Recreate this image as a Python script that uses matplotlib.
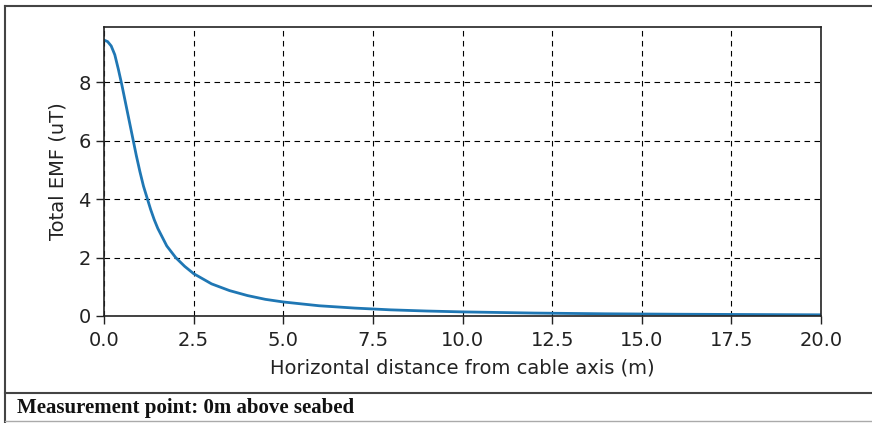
import matplotlib
matplotlib.use("Agg")
from matplotlib import pyplot as plt
from matplotlib.lines import Line2D

# 水平距离 (m) 与 总EMF (uT)
distance = [0.0, 0.1, 0.2, 0.3, 0.4, 0.5, 0.6, 0.7, 0.8, 0.9, 1.0, 1.1, 1.2, 1.3,
            1.4, 1.5, 1.75, 2.0, 2.25, 2.5, 3.0, 3.5, 4.0, 4.5, 5.0, 6.0, 7.0,
            8.0, 9.0, 10.0, 12.0, 14.0, 16.0, 18.0, 20.0]
emf = [9.45, 9.40, 9.25, 8.95, 8.45, 7.90, 7.30, 6.70, 6.10, 5.50, 4.95, 4.45,
       4.05, 3.65, 3.30, 3.00, 2.40, 2.00, 1.70, 1.45, 1.10, 0.87, 0.70, 0.57,
       0.48, 0.35, 0.27, 0.21, 0.17, 0.14, 0.10, 0.075, 0.06, 0.05, 0.04]

x_ticks = [0.0, 2.5, 5.0, 7.5, 10.0, 12.5, 15.0, 17.5, 20.0]
y_ticks = [0, 2, 4, 6, 8]
caption = "Measurement point: 0m above seabed"

fig = plt.figure(figsize=(8.72, 4.23), dpi=100)
ax = fig.add_axes([0.1193, 0.2530, 0.8222, 0.6832])

ax.plot(distance, emf, color="#1f77b4", linewidth=2)
ax.set_xlim(0, 20)
ax.set_ylim(0, 9.9)
ax.set_xticks(x_ticks)
ax.set_xticklabels(["%.1f" % t for t in x_ticks])
ax.set_yticks(y_ticks)
ax.tick_params(direction="out", length=6, width=1, labelsize=14, colors="#222222")
ax.tick_params(axis="x", pad=5)
ax.grid(True, color="black", linewidth=0.8, dashes=(5, 4))
for s in ax.spines.values():
    s.set_linewidth(1.2)
    s.set_color("#222222")

ax.set_xlabel("Horizontal distance from cable axis (m)", fontsize=14, color="#222222", labelpad=6)
ax.set_ylabel("Total EMF (uT)", fontsize=14, color="#222222", labelpad=8)

# 外框（文档表格边框）
fig.add_artist(Line2D([5 / 872, 5 / 872], [0, 1 - 6 / 423], color="#444444", lw=1.5))
fig.add_artist(Line2D([5 / 872, 1], [1 - 6 / 423, 1 - 6 / 423], color="#444444", lw=1.5))
fig.add_artist(Line2D([5 / 872, 1], [1 - 393 / 423, 1 - 393 / 423], color="#444444", lw=1.5))
fig.add_artist(Line2D([5 / 872, 1], [1 - 421 / 423, 1 - 421 / 423], color="#aaaaaa", lw=1))

fig.text(17 / 872, 1 - 408 / 423, caption, family="Liberation Serif", weight="bold",
         fontsize=15, va="center", ha="left", color="#111111")

fig.savefig("out.png", dpi=100)
